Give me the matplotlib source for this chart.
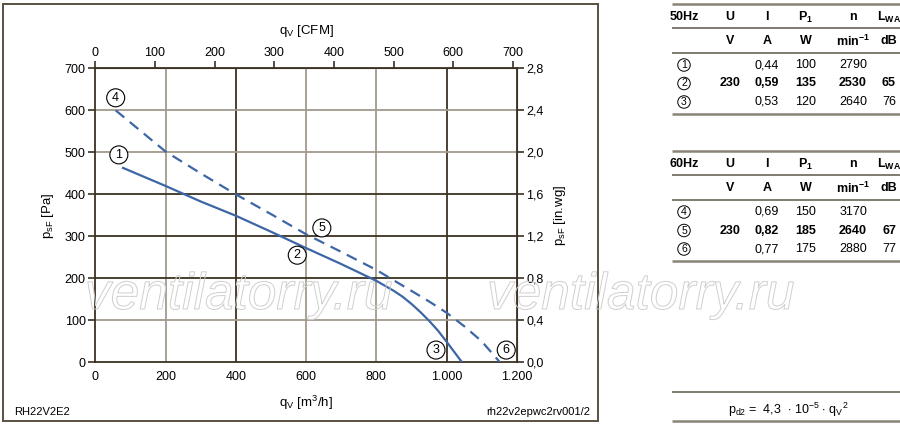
import matplotlib
matplotlib.use("Agg")
import matplotlib.pyplot as plt
import matplotlib.patheffects as pe
from matplotlib.patches import Rectangle

plt.rcParams['font.family'] = ['Liberation Sans', 'DejaVu Sans']
plt.rcParams['mathtext.fontset'] = 'custom'
plt.rcParams['mathtext.rm'] = 'Liberation Sans'
plt.rcParams['mathtext.it'] = 'Liberation Sans'
plt.rcParams['mathtext.bf'] = 'Liberation Sans:bold'

# curve data (qv in m3/h, psF in Pa)
qv_50 = [76, 200, 300, 400, 500, 600, 700, 750, 800, 850, 875, 900, 925, 950, 975, 1000, 1044]
p_50 = [464, 420, 383, 349, 311, 272, 234, 214, 194, 170, 156, 139, 120, 99, 76, 49, 0]
qv_60 = [58, 200, 300, 400, 500, 600, 700, 800, 900, 950, 1000, 1050, 1100, 1152]
p_60 = [600, 502, 450, 400, 353, 305, 263, 220, 170, 145, 118, 86, 50, 0]

# operating point markers (number, qv, p)
markers = [("1", 67, 494), ("2", 575, 255), ("3", 970, 29),
           ("4", 58, 630), ("5", 645, 320), ("6", 1170, 29)]

x_ticks = [0, 200, 400, 600, 800, 1000, 1200]
x_labels = ["0", "200", "400", "600", "800", "1.000", "1.200"]
y_ticks = [0, 100, 200, 300, 400, 500, 600, 700]
cfm_ticks = [0, 100, 200, 300, 400, 500, 600, 700]
inwg_ticks = [0.0, 0.4, 0.8, 1.2, 1.6, 2.0, 2.4, 2.8]
inwg_labels = ["0,0", "0,4", "0,8", "1,2", "1,6", "2,0", "2,4", "2,8"]

# table data
hdr = ["U", "I", "P$_\\mathbf{1}$", "n", "L$_\\mathbf{WA}$"]
units = ["V", "A", "W", "min$^{\\mathbf{-1}}$", "dB"]
rows_50 = [("1", "", "0,44", "100", "2790", ""),
           ("2", "230", "0,59", "135", "2530", "65"),
           ("3", "", "0,53", "120", "2640", "76")]
rows_60 = [("4", "", "0,69", "150", "3170", ""),
           ("5", "230", "0,82", "185", "2640", "67"),
           ("6", "", "0,77", "175", "2880", "77")]

dark = '#3b3122'
grey = '#a19a8e'
blue = '#3d66a6'

fig = plt.figure(figsize=(9, 4.26), dpi=100)
ax = fig.add_axes([0.1059, 0.1497, 0.4683, 0.6897])

ax.plot(qv_50, p_50, color=blue, lw=1.6, zorder=3, solid_capstyle='butt',
        solid_joinstyle='round')
ax.plot(qv_60, p_60, color=blue, lw=1.6, zorder=3, dashes=(5, 3.2))

for num, q, p in markers:
    ax.text(q, p, num, fontsize=9, ha='center', va='center', zorder=4,
            bbox=dict(boxstyle='circle,pad=0.24', fc='white', ec='black', lw=0.8))

ax.set_xlim(0, 1200)
ax.set_ylim(0, 700)

# grid: some lines dark, some grey, as in the original
dark_x = [400, 1000]
dark_y = [200, 300, 400]
for x in x_ticks[1:-1]:
    ax.axvline(x, color=dark if x in dark_x else grey, lw=1.3, zorder=1)
for y in y_ticks[1:-1]:
    ax.axhline(y, color=dark if y in dark_y else grey, lw=1.3, zorder=1)

for s in ax.spines.values():
    s.set_color(dark)
    s.set_linewidth(1.3)

ax.set_xticks(x_ticks)
ax.set_xticklabels(x_labels)
ax.set_yticks(y_ticks)
ax.tick_params(axis='x', length=0, pad=6, labelsize=9)
ax.tick_params(axis='y', length=5, width=1.2, color=dark, pad=2, labelsize=9)
ax.set_xlabel("q$_\\mathregular{V}$ [m$^\\mathregular{3}$/h]", fontsize=9.5, labelpad=8)
ax.set_ylabel("p$_\\mathregular{sF}$ [Pa]", fontsize=9.5, labelpad=6)

top = ax.secondary_xaxis('top', functions=(lambda q: q / 1.699, lambda c: c * 1.699))
top.set_xticks(cfm_ticks)
top.tick_params(length=5, width=1.2, color=dark, pad=2, labelsize=9)
top.spines['top'].set_color(dark)
top.set_xlabel("q$_\\mathregular{V}$ [CFM]", fontsize=9.5, labelpad=9)

right = ax.secondary_yaxis('right', functions=(lambda p: p / 250, lambda w: w * 250))
right.set_yticks(inwg_ticks)
right.set_yticklabels(inwg_labels)
right.tick_params(length=5, width=1.2, color=dark, pad=2, labelsize=9)
right.spines['right'].set_color(dark)
right.set_ylabel("p$_\\mathregular{sF}$ [in.wg]", fontsize=9.5, labelpad=6)

# overlay in pixel coordinates for frame, footer texts and tables
ov = fig.add_axes([0, 0, 1, 1], zorder=5)
ov.set_xlim(0, 900)
ov.set_ylim(426, 0)
ov.axis('off')
ov.patch.set_visible(False)

ov.add_patch(Rectangle((3, 4), 595, 417, fill=False, ec='#5a5040', lw=1.4))
ov.text(14, 412, "RH22V2E2", fontsize=8, va='center', ha='left')
ov.text(590, 412, "rh22v2epwc2rv001/2", fontsize=8, va='center', ha='right')

for xw in [85, 487]:
    ov.text(xw, 309, "ventilatorry.ru", fontsize=37, style='italic', color='none',
            ha='left', va='baseline', zorder=2,
            path_effects=[pe.Stroke(linewidth=0.7, foreground='#cfcfcf')])

col_x = [684, 730, 767, 806, 853, 889]


def hline(y, lw=1.2, c='#6b6558'):
    ov.plot([672, 900], [y, y], color=c, lw=lw, solid_capstyle='butt')


def table(title, rows, y_top):
    hline(y_top, lw=1.8, c='#8a8478')
    ov.text(col_x[0], y_top + 13, title, fontsize=9, fontweight='bold', ha='center', va='center')
    for x, h in zip(col_x[1:], hdr):
        ov.text(x, y_top + 13, h, fontsize=9, fontweight='bold', ha='center', va='center')
    hline(y_top + 24)
    for x, u in zip(col_x[1:], units):
        ov.text(x, y_top + 37, u, fontsize=9, fontweight='bold', ha='center', va='center')
    hline(y_top + 49)
    for i, r in enumerate(rows):
        y = y_top + 61 + i * 18.5
        bold = 'bold' if r[1] else 'normal'
        ov.text(col_x[0], y, r[0], fontsize=7.5, ha='center', va='center',
                bbox=dict(boxstyle='circle,pad=0.12', fc='white', ec='black', lw=0.7))
        for x, v in zip(col_x[1:], r[1:]):
            ov.text(x, y, v, fontsize=9, fontweight=bold, ha='center', va='center')
    hline(y_top + 110, lw=1.8, c='#8a8478')


table("50Hz", rows_50, 4)
table("60Hz", rows_60, 151)

hline(392, lw=1.2)
hline(421, lw=1.8, c='#8a8478')
ov.text(788, 410, "p$_\\mathregular{d2}$ =  4,3  $\\cdot$ 10$^\\mathregular{-5}$ $\\cdot$ q$_\\mathregular{V}$$^\\mathregular{2}$",
        fontsize=9, ha='center', va='center')

fig.savefig("out.png", dpi=100)
